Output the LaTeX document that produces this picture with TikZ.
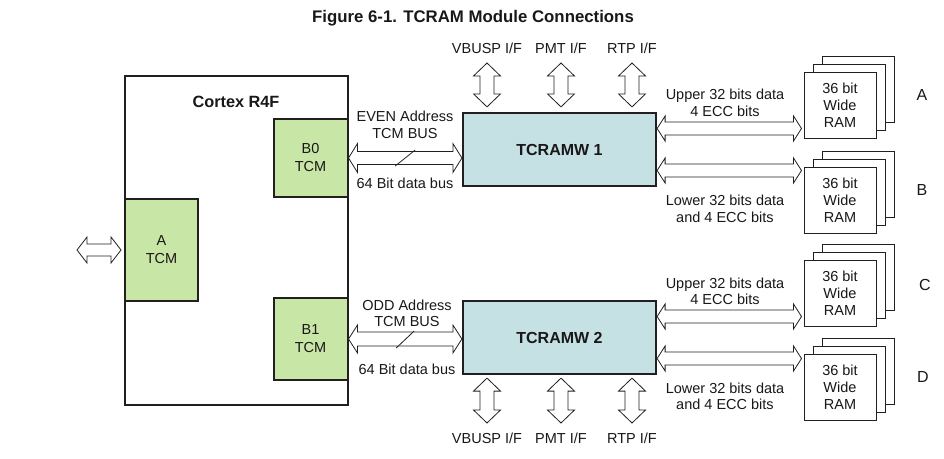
\documentclass[tikz,border=0pt]{standalone}
\usepackage{fontspec}
\setmainfont{Liberation Sans}
\usetikzlibrary{calc}
\definecolor{txt}{HTML}{1A1718}
\definecolor{edge}{HTML}{231F20}
\definecolor{tcmg}{HTML}{C8E6A5}
\definecolor{twb}{HTML}{C5E1E4}
\newcommand\hdbl[5]{\draw[hollow] let \p1=(#1), \p2=(#2) in (\x1,\y1) -- (\x1+#5,\y1+#4) -- (\x1+#5,\y1+#3) -- (\x2-#5,\y1+#3) -- (\x2-#5,\y1+#4) -- (\x2,\y1) -- (\x2-#5,\y1-#4) -- (\x2-#5,\y1-#3) -- (\x1+#5,\y1-#3) -- (\x1+#5,\y1-#4) -- cycle;}
\newcommand\vdbl[5]{\draw[hollow] let \p1=(#1), \p2=(#2) in (\x1,\y1) -- (\x1+#4,\y1-#5) -- (\x1+#3,\y1-#5) -- (\x1+#3,\y2+#5) -- (\x1+#4,\y2+#5) -- (\x1,\y2) -- (\x1-#4,\y2+#5) -- (\x1-#3,\y2+#5) -- (\x1-#3,\y1-#5) -- (\x1-#4,\y1-#5) -- cycle;}
\begin{document}
\begin{tikzpicture}[x=1pt,y=-1pt,
  every node/.style={font=\fontsize{14.5}{16.5}\selectfont, text=txt, inner sep=0pt},
  hollow/.style={draw=edge, line width=0.8pt, fill=white, line join=miter},
  bigbox/.style={draw=edge, line width=2pt, fill=white},
  tcmbox/.style={draw=edge, line width=2pt, fill=tcmg, align=center, font=\fontsize{14.5}{18}\selectfont},
  twbox/.style={draw=edge, line width=2.2pt, fill=twb, minimum width=193pt, minimum height=73pt, font=\fontsize{16}{18}\selectfont\bfseries},
  ramb/.style={draw=edge, line width=1pt, fill=white, minimum width=72pt, minimum height=66pt, align=center, font=\fontsize{14.5}{17}\selectfont},
  lbl/.style={align=center},
  slash/.style={draw=edge, line width=0.8pt}]
\useasboundingbox (0,0) rectangle (944,458);
% title
\node[font=\fontsize{16.8}{19}\selectfont\bfseries] (title) at (473,18) {Figure 6-1. TCRAM Module Connections};
% Cortex
\node[bigbox, minimum width=223pt, minimum height=329pt] (cortex) at (236.5,240.5) {};
\node[font=\fontsize{16.3}{18}\selectfont\bfseries] (cortexlbl) at (236,102) {Cortex R4F};
\node[tcmbox, minimum width=74pt, minimum height=78pt] (b0) at (310.5,158) {B0\\TCM};
\node[tcmbox, minimum width=74pt, minimum height=82pt] (b1) at (310.5,339) {B1\\TCM};
\node[tcmbox, minimum width=73pt, minimum height=102pt] (atcm) at (161.5,250) {A\\TCM};
% TCRAMW
\node[twbox] (tw1) at (559.5,149.5) {TCRAMW 1};
\node[twbox] (tw2) at (559.5,337.5) {TCRAMW 2};
% left arrow
\coordinate (lft) at (77,250);
\coordinate (lfte) at ([xshift=-3pt]atcm.west);
\hdbl{lft}{lfte}{6pt}{13pt}{10pt}
% buses
\coordinate (bus1e) at (b0.east -| tw1.west);
\coordinate (bus2e) at (b1.east -| tw2.west);
\hdbl{b0.east}{bus1e}{6.5pt}{14.5pt}{9pt}
\hdbl{b1.east}{bus2e}{7pt}{14pt}{9pt}
\coordinate (bm1) at ($(b0.east)!0.5!(bus1e)$);
\coordinate (bm2) at ($(b1.east)!0.5!(bus2e)$);
\draw[slash] ($(bm1)+(-10,8)$) -- ($(bm1)+(10,-8)$);
\draw[slash] ($(bm2)+(-9,9)$) -- ($(bm2)+(9,-8)$);
\node[lbl] (even) at (405,125) {EVEN Address\\TCM BUS};
\node[lbl] (d1) at (405,183) {64 Bit data bus};
\node[lbl] (odd) at (407,313.5) {ODD Address\\TCM BUS};
\node[lbl] (d2) at (407,369) {64 Bit data bus};
% top interfaces
\node (v1) at (487,48) {VBUSP I/F};
\node (p1) at (561,48) {PMT I/F};
\node (r1) at (632,48) {RTP I/F};
\foreach \n/\xx in {v1t/487,p1t/561,r1t/632}{
  \coordinate (\n a) at (\xx,63);
  \coordinate (\n b) at ([yshift=5pt]\n a |- tw1.north);
}
\vdbl{v1ta}{v1tb}{7pt}{13.5pt}{13pt}
\vdbl{p1ta}{p1tb}{7pt}{13.5pt}{13pt}
\vdbl{r1ta}{r1tb}{7pt}{13.5pt}{13pt}
% bottom interfaces
\node (v2) at (487,438) {VBUSP I/F};
\node (p2) at (561,438) {PMT I/F};
\node (r2) at (632,438) {RTP I/F};
\foreach \n/\xx in {v2t/487,p2t/561,r2t/632}{
  \coordinate (\n b) at (\xx,423);
  \coordinate (\n a) at ([yshift=-3pt]\n b |- tw2.south);
}
\vdbl{v2ta}{v2tb}{7pt}{13.5pt}{13pt}
\vdbl{p2ta}{p2tb}{7pt}{13.5pt}{13pt}
\vdbl{r2ta}{r2tb}{7pt}{13.5pt}{13pt}
% RAM stacks
\foreach \r/\yy in {A/105,B/200,C/293,D/387.5}{
  \node[ramb] (ram\r c) at (858,\yy-16) {};
  \node[ramb] (ram\r b) at (849,\yy-8) {};
  \node[ramb] (ram\r) at (840,\yy) {36 bit\\Wide\\RAM};
}
\node[font=\fontsize{16}{18}\selectfont] (la) at (922,95) {A};
\node[font=\fontsize{16}{18}\selectfont] (lb) at (922,190) {B};
\node[font=\fontsize{16}{18}\selectfont] (lc) at (925,285) {C};
\node[font=\fontsize{16}{18}\selectfont] (ld) at (923,377) {D};
% right buses
\coordinate (u1s) at ([yshift=21pt]tw1.east);
\coordinate (u1e) at ([xshift=-2pt]u1s -| ramA.west);
\coordinate (l1s) at ([yshift=-21pt]tw1.east);
\coordinate (l1e) at ([xshift=-2pt]l1s -| ramB.west);
\coordinate (u2s) at ([yshift=21pt]tw2.east);
\coordinate (u2e) at ([xshift=-2pt]u2s -| ramC.west);
\coordinate (l2s) at ([yshift=-21pt]tw2.east);
\coordinate (l2e) at ([xshift=-2pt]l2s -| ramD.west);
\hdbl{u1s}{u1e}{6.5pt}{12.5pt}{8pt}
\hdbl{l1s}{l1e}{6.5pt}{12.5pt}{8pt}
\hdbl{u2s}{u2e}{6.5pt}{12.5pt}{8pt}
\hdbl{l2s}{l2e}{6.5pt}{12.5pt}{8pt}
\node[lbl] (tu1) at (725,103) {Upper 32 bits data\\4 ECC bits};
\node[lbl] (tl1) at (725,209) {Lower 32 bits data\\and 4 ECC bits};
\node[lbl] (tu2) at (725,291.5) {Upper 32 bits data\\4 ECC bits};
\node[lbl] (tl2) at (725,396.5) {Lower 32 bits data\\and 4 ECC bits};
\end{tikzpicture}
\end{document}
